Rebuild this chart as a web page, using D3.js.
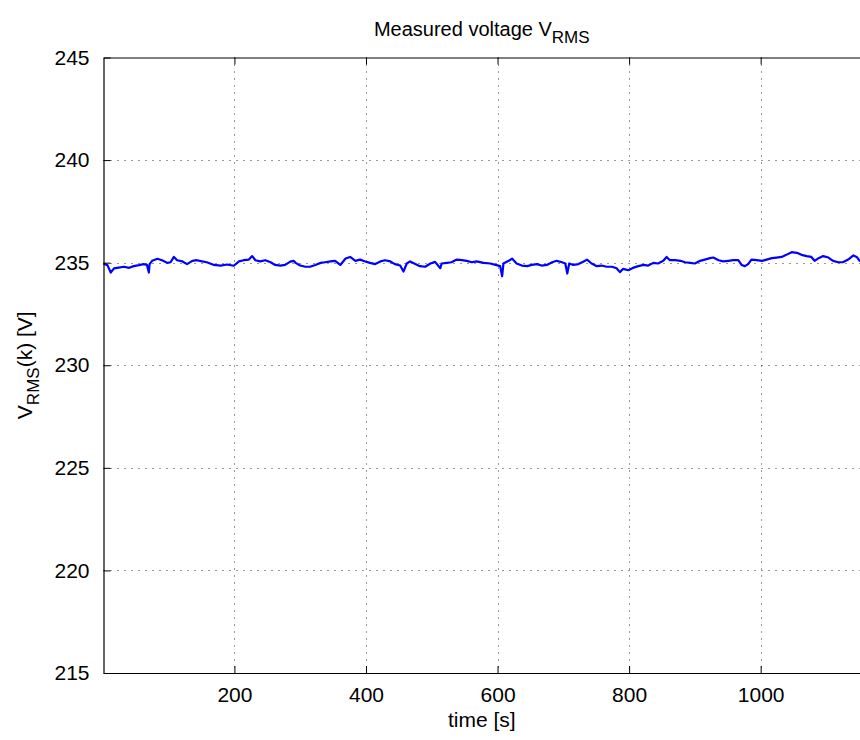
<!DOCTYPE html>
<html><head><meta charset="utf-8">
<script src="https://cdn.jsdelivr.net/npm/d3@7"></script>
<style>body{margin:0;background:#fff}svg{display:block}text{font-family:"Liberation Sans",Arial,sans-serif;fill:#000}</style>
</head><body><svg id="c" width="860" height="740"></svg>
<script>
const timeS = [1,3,7,12,17,24,32,40,47,55,62,67,70,71,75,83,90,98,103,108,113,121,128,136,143,151,158,169,179,189,199,207,214,222,227,232,239,247,255,262,270,277,285,290,293,300,308,315,323,331,338,346,353,361,369,376,384,391,399,406,414,422,429,437,444,452,457,462,467,475,482,490,498,505,513,515,523,530,538,546,553,561,568,579,589,597,604,607,609,617,622,629,637,645,652,660,667,675,683,690,698,703,706,709,715,723,731,736,743,751,758,766,774,781,786,791,799,807,814,822,829,837,844,852,857,862,870,878,885,893,900,908,915,923,928,936,943,951,958,966,971,976,981,986,994,1002,1009,1017,1024,1032,1039,1047,1055,1062,1070,1077,1082,1088,1095,1103,1110,1118,1125,1133,1141,1146,1151];
const vrms = [234.95,234.93,234.88,234.52,234.72,234.76,234.80,234.75,234.83,234.88,234.93,234.89,234.52,234.93,235.09,235.19,235.12,234.99,235.02,235.28,235.12,235.06,234.93,235.09,235.12,235.06,235.02,234.89,234.86,234.91,234.85,235.06,235.12,235.15,235.32,235.12,235.06,235.12,235.02,234.89,234.86,234.89,235.05,235.09,234.99,234.86,234.80,234.80,234.89,234.99,235.02,235.06,235.09,234.89,235.20,235.28,235.09,235.15,235.06,234.99,234.93,235.06,235.12,235.06,234.93,234.86,234.57,234.96,235.06,234.93,234.83,234.80,234.96,235.04,234.73,234.96,234.99,235.02,235.15,235.12,235.09,235.02,235.06,234.99,234.96,234.89,234.83,234.34,234.96,235.09,235.20,234.96,234.86,234.83,234.89,234.93,234.86,234.89,235.02,235.09,235.02,234.96,234.47,234.96,234.89,234.93,235.06,235.15,234.96,234.83,234.86,234.80,234.80,234.73,234.54,234.70,234.63,234.76,234.83,234.89,234.86,234.99,234.96,235.09,235.28,235.12,235.12,235.09,235.02,234.99,234.96,235.09,235.15,235.22,235.25,235.12,235.06,235.09,235.12,235.12,234.89,234.83,234.93,235.15,235.12,235.09,235.15,235.22,235.25,235.28,235.38,235.51,235.48,235.38,235.32,235.28,235.09,235.22,235.32,235.25,235.09,235.02,235.02,235.15,235.35,235.28,235.06];
const xTicks = [200,400,600,800,1000];
const yTicks = [215,220,225,230,235,240,245];
const xDomain = [1,1151];
const yDomain = [215,245];

const svg = d3.select("#c");
const L=103.5, R=860, T=57.5, B=673;
const x = d3.scaleLinear().domain(xDomain).range([L,R]);
const y = d3.scaleLinear().domain(yDomain).range([B,T]);

// grid
const g = svg.append("g");
g.selectAll(".gx").data(xTicks).join("line")
 .attr("x1",d=>Math.round(x(d))+0.5).attr("x2",d=>Math.round(x(d))+0.5).attr("y1",T).attr("y2",B)
 .attr("stroke","#333").attr("stroke-width",1).attr("stroke-dasharray","1,6");
g.selectAll(".gy").data(yTicks.filter(d=>d>215&&d<245)).join("line")
 .attr("y1",d=>Math.round(y(d))+0.5).attr("y2",d=>Math.round(y(d))+0.5).attr("x1",L).attr("x2",R)
 .attr("stroke","#333").attr("stroke-width",1).attr("stroke-dasharray","1,6");

// line
const line = d3.line().x((d,i)=>x(timeS[i])).y(d=>y(d));
svg.append("path").datum(vrms).attr("d",line).attr("fill","none")
 .attr("stroke","#0000ff").attr("stroke-width",2.2).attr("stroke-linejoin","round");

// axes (MATLAB style, inward ticks)
const xa = svg.append("g").attr("transform",`translate(0,${B})`)
 .call(d3.axisBottom(x).tickValues(xTicks).tickFormat(d3.format("d")).tickSizeInner(-7).tickSizeOuter(0).tickPadding(14));
const xt = svg.append("g").attr("transform",`translate(0,${T})`)
 .call(d3.axisTop(x).tickValues(xTicks).tickSizeInner(-7).tickSizeOuter(0).tickFormat(""));
const ya = svg.append("g").attr("transform",`translate(${L},0)`)
 .call(d3.axisLeft(y).tickValues(yTicks).tickFormat(d3.format("d")).tickSizeInner(-7).tickSizeOuter(0).tickPadding(14));
[xa,xt,ya].forEach(a=>{
  a.selectAll("path").attr("stroke","#000").attr("stroke-width",1.2);
  a.selectAll("line").attr("stroke","#000");
  a.selectAll("text").style("font-size","21px").style("font-family","'Liberation Sans',Arial,sans-serif");
});

// title
const t = svg.append("text").attr("x",(L+R)/2).attr("y",36).attr("text-anchor","middle").style("font-size","20px");
t.append("tspan").text("Measured voltage V");
t.append("tspan").attr("dy",7).style("font-size","17px").text("RMS");

// x label
svg.append("text").attr("x",(L+R)/2).attr("y",727).attr("text-anchor","middle").style("font-size","21px").text("time [s]");

// y label
const yl = svg.append("text").attr("transform",`translate(32,${(T+B)/2}) rotate(-90)`).attr("text-anchor","middle").style("font-size","21px");
yl.append("tspan").text("V");
yl.append("tspan").attr("dy",7).style("font-size","17px").text("RMS");
yl.append("tspan").attr("dy",-7).text("(k) [V]");
</script></body></html>
